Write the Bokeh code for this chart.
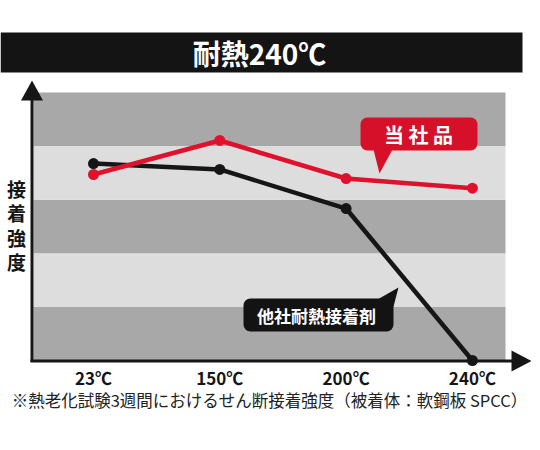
import numpy as np
from bokeh.plotting import figure
from bokeh.models import Range1d, BoxAnnotation, Label
from bokeh.core.properties import value
from bokeh.embed import file_html
from bokeh.resources import INLINE

# ---- data ----
categories = ["23℃", "150℃", "200℃", "240℃"]
ours = [69.4, 82.1, 67.9, 64.3]          # 当社品
others = [73.5, 71.3, 56.7, 0.0]         # 他社耐熱接着剤
band_edges = [0, 20, 40, 60, 80, 100]
title_text = "耐熱240℃"
y_label = "接\n着\n強\n度"
ours_label = "当 社 品"
others_label = "他社耐熱接着剤"
footnote = "※熱老化試験3週間におけるせん断接着強度（被着体：軟鋼板 SPCC）"

# ---- layout helpers (page pixel -> data) ----
W, H = 532, 434
X0, DX = 93.0, 126.3
Y0, DY = 360.0, 2.68


def X(px):
    return (px - X0) / DX


def Y(py):
    return (Y0 - py) / DY


FONT_NAME = "Noto Sans CJK JP"
FONT = value(FONT_NAME)
RED = "#e0112d"
RED_BOX = "#d7102a"
BLACK = "#161616"
DARK = "#a8a8a8"
LIGHT = "#dddddd"

p = figure(width=W, height=H,
           x_range=Range1d(X(0), X(W)), y_range=Range1d(Y(H), Y(0)),
           output_backend="svg", toolbar_location=None,
           x_axis_type=None, y_axis_type=None, min_border=0)
p.outline_line_color = None
p.background_fill_color = "white"
p.border_fill_color = "white"

# title bar
p.quad(left=X(0), right=X(522), top=Y(32), bottom=Y(72), fill_color="#141414", line_color=None)
p.text(x=[X(259)], y=[Y(52)], text=[title_text], text_font=FONT, text_font_style="bold",
       text_font_size="28px", text_color="white", text_align="center", text_baseline="middle")

# striped plot background
colors = [DARK if i % 2 == 0 else LIGHT for i in range(len(band_edges) - 1)]
p.quad(left=X(33), right=X(505), bottom=band_edges[:-1], top=band_edges[1:],
       fill_color=colors, line_color=None)

# axes with arrows
p.line([X(31.5), X(31.5)], [Y(98), Y(361.5)], line_color=BLACK, line_width=3)
p.line([X(30), X(514)], [Y(360.5), Y(360.5)], line_color=BLACK, line_width=3)
p.patch([X(20.5), X(31.5), X(42.5)], [Y(100), Y(80), Y(100)], fill_color=BLACK, line_color=None)
p.patch([X(511), X(531), X(511)], [Y(350), Y(360.5), Y(371)], fill_color=BLACK, line_color=None)

# y label
p.text(x=[X(16)], y=[Y(224.5)], text=[y_label], text_font=FONT, text_font_style="bold",
       text_font_size="19px", text_color=BLACK, text_align="center", text_baseline="middle",
       text_line_height=0.9)

xs = list(range(len(categories)))

# series
p.line(xs, others, line_color=BLACK, line_width=4.5, line_join="round")
p.scatter(xs, others, size=11, fill_color=BLACK, line_color=None)
p.line(xs, ours, line_color=RED, line_width=4.5, line_join="round")
p.scatter(xs, ours, size=11, fill_color=RED, line_color=None)

# 当社品 callout
p.patch([X(373), X(392), X(379)], [Y(149), Y(149), Y(173)], fill_color=RED_BOX, line_color=None)
p.add_layout(BoxAnnotation(left=X(360), right=X(477), top=Y(117), bottom=Y(150),
                           fill_color=RED_BOX, fill_alpha=1, line_color=None, border_radius=7))
p.add_layout(Label(x=X(418), y=Y(134), text=ours_label, text_font=FONT_NAME, text_font_style="bold",
                   text_font_size="20px", text_color="white", text_align="center",
                   text_baseline="middle"))

# 他社耐熱接着剤 callout
p.patch([X(377), X(393), X(398)], [Y(299), Y(306), Y(287)], fill_color="#131313", line_color=None)
p.add_layout(BoxAnnotation(left=X(243), right=X(393), top=Y(298), bottom=Y(331),
                           fill_color="#131313", fill_alpha=1, line_color=None, border_radius=7))
p.add_layout(Label(x=X(316), y=Y(315), text=others_label, text_font=FONT_NAME, text_font_style="bold",
                   text_font_size="17px", text_color="white", text_align="center",
                   text_baseline="middle"))

# x tick labels
p.text(x=xs, y=[Y(377)] * len(xs), text=categories, text_font=FONT, text_font_style="bold",
       text_font_size="17px", text_color=BLACK, text_align="center", text_baseline="middle")

# footnote
p.text(x=[X(269)], y=[Y(399)], text=[footnote], text_font=FONT,
       text_font_size="16.5px", text_color="#222222", text_align="center", text_baseline="middle")

open("out.html", "w").write(file_html(p, INLINE))
